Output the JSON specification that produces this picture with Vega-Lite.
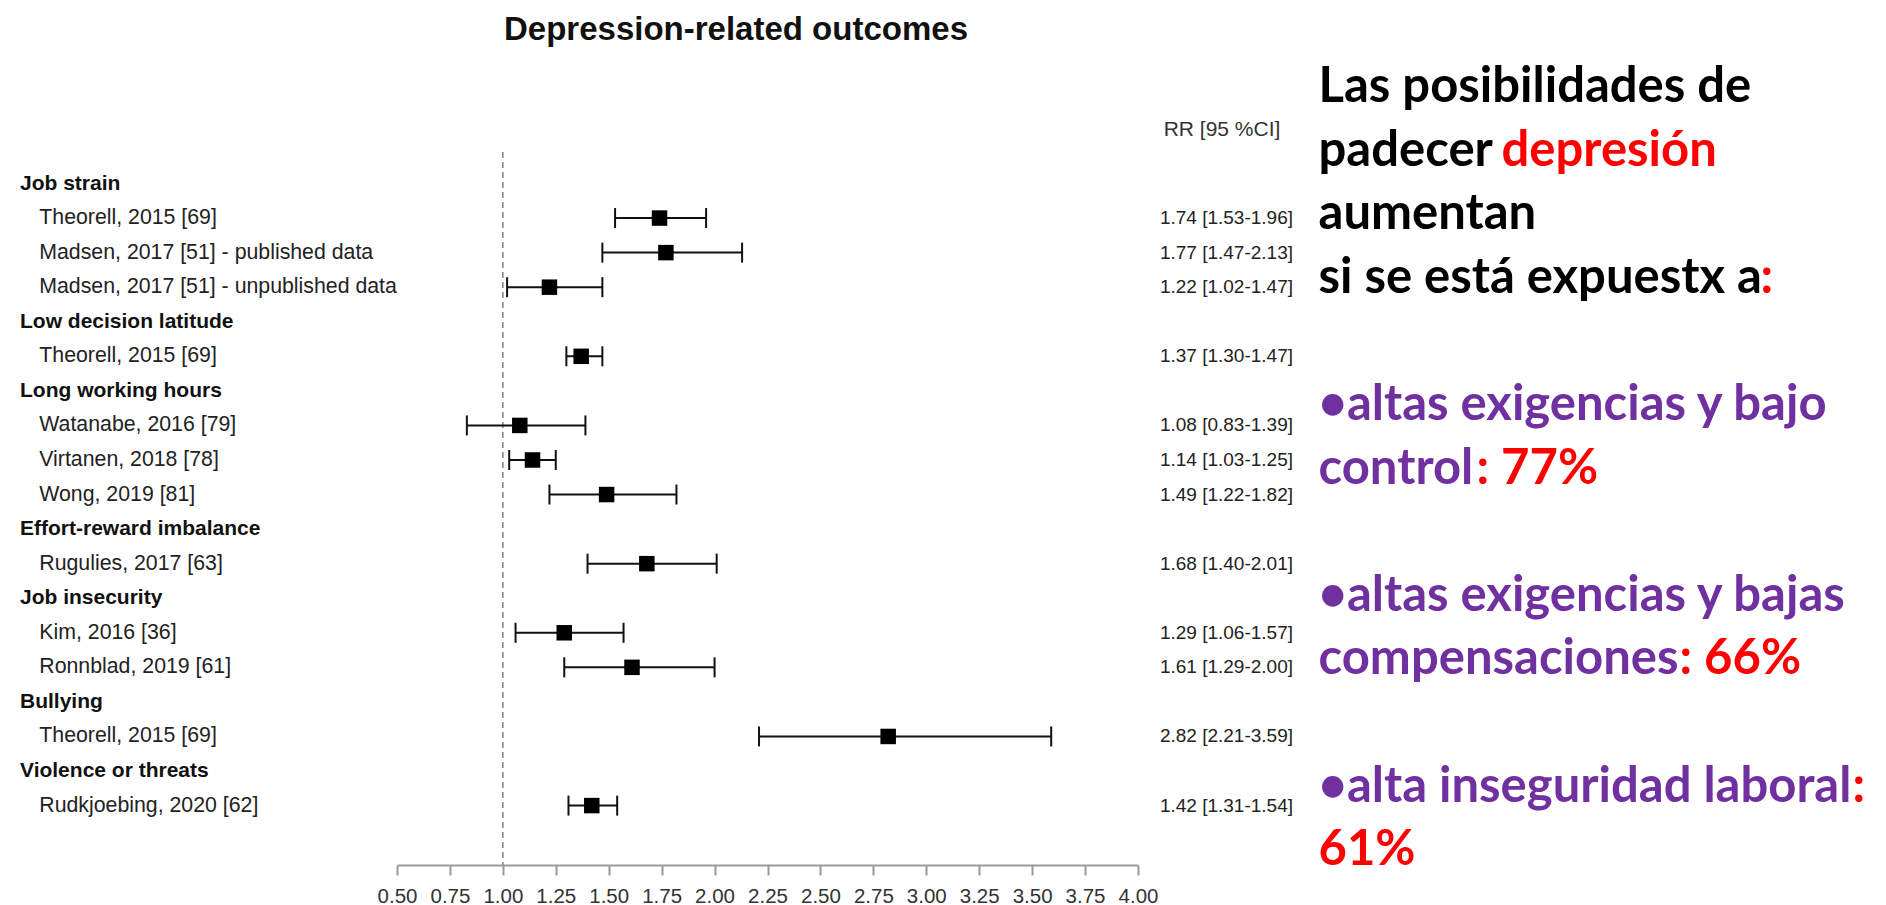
{
  "$schema": "https://vega.github.io/schema/vega-lite/v6.json",
  "width": 741,
  "height": 745,
  "autosize": {"type": "none"},
  "padding": {"left": 397, "right": 748, "top": 120, "bottom": 40},
  "background": "white",
  "datasets": {
    "forest": [
      {"row": 0, "label": "Job strain", "kind": "header"},
      {"row": 1, "label": "Theorell, 2015 [69]", "kind": "study", "rr": 1.74, "lo": 1.53, "hi": 1.96, "ci": "1.74 [1.53-1.96]"},
      {"row": 2, "label": "Madsen, 2017 [51] - published data", "kind": "study", "rr": 1.77, "lo": 1.47, "hi": 2.13, "ci": "1.77 [1.47-2.13]"},
      {"row": 3, "label": "Madsen, 2017 [51] - unpublished data", "kind": "study", "rr": 1.22, "lo": 1.02, "hi": 1.47, "ci": "1.22 [1.02-1.47]"},
      {"row": 4, "label": "Low decision latitude", "kind": "header"},
      {"row": 5, "label": "Theorell, 2015 [69]", "kind": "study", "rr": 1.37, "lo": 1.30, "hi": 1.47, "ci": "1.37 [1.30-1.47]"},
      {"row": 6, "label": "Long working hours", "kind": "header"},
      {"row": 7, "label": "Watanabe, 2016 [79]", "kind": "study", "rr": 1.08, "lo": 0.83, "hi": 1.39, "ci": "1.08 [0.83-1.39]"},
      {"row": 8, "label": "Virtanen, 2018 [78]", "kind": "study", "rr": 1.14, "lo": 1.03, "hi": 1.25, "ci": "1.14 [1.03-1.25]"},
      {"row": 9, "label": "Wong, 2019 [81]", "kind": "study", "rr": 1.49, "lo": 1.22, "hi": 1.82, "ci": "1.49 [1.22-1.82]"},
      {"row": 10, "label": "Effort-reward imbalance", "kind": "header"},
      {"row": 11, "label": "Rugulies, 2017 [63]", "kind": "study", "rr": 1.68, "lo": 1.40, "hi": 2.01, "ci": "1.68 [1.40-2.01]"},
      {"row": 12, "label": "Job insecurity", "kind": "header"},
      {"row": 13, "label": "Kim, 2016 [36]", "kind": "study", "rr": 1.29, "lo": 1.06, "hi": 1.57, "ci": "1.29 [1.06-1.57]"},
      {"row": 14, "label": "Ronnblad, 2019 [61]", "kind": "study", "rr": 1.61, "lo": 1.29, "hi": 2.00, "ci": "1.61 [1.29-2.00]"},
      {"row": 15, "label": "Bullying", "kind": "header"},
      {"row": 16, "label": "Theorell, 2015 [69]", "kind": "study", "rr": 2.82, "lo": 2.21, "hi": 3.59, "ci": "2.82 [2.21-3.59]"},
      {"row": 17, "label": "Violence or threats", "kind": "header"},
      {"row": 18, "label": "Rudkjoebing, 2020 [62]", "kind": "study", "rr": 1.42, "lo": 1.31, "hi": 1.54, "ci": "1.42 [1.31-1.54]"}
    ],
    "heads": [
      {"title": "Depression-related outcomes", "colhead": "RR [95 %CI]", "null": 1}
    ],
    "note": [
      {"line": 0, "seg": "lead", "tone": "plain", "text": "Las posibilidades de"},
      {"line": 1, "seg": "lead", "tone": "plain", "text": "padecer"},
      {"line": 1, "seg": "tail", "tone": "accent", "text": "depresión"},
      {"line": 2, "seg": "lead", "tone": "plain", "text": "aumentan"},
      {"line": 3, "seg": "lead", "tone": "plain", "text": "si se está expuestx a"},
      {"line": 3, "seg": "tail", "tone": "accent", "text": ":"},
      {"line": 5, "seg": "lead", "tone": "item", "text": "•altas exigencias y bajo"},
      {"line": 6, "seg": "lead", "tone": "item", "text": "control"},
      {"line": 6, "seg": "tail", "tone": "accent", "text": ": 77%"},
      {"line": 8, "seg": "lead", "tone": "item", "text": "•altas exigencias y bajas"},
      {"line": 9, "seg": "lead", "tone": "item", "text": "compensaciones"},
      {"line": 9, "seg": "tail", "tone": "accent", "text": ": 66%"},
      {"line": 11, "seg": "lead", "tone": "item", "text": "•alta inseguridad laboral"},
      {"line": 11, "seg": "tail", "tone": "accent", "text": ":"},
      {"line": 12, "seg": "lead", "tone": "accent", "text": "61%"}
    ]
  },
  "layer": [
    {
      "layer": [
        {
          "data": {"name": "heads"},
          "mark": {"type": "rule", "strokeDash": [6, 4], "color": "#8a8a8a", "strokeWidth": 1.6},
          "encoding": {
            "x": {"field": "null", "type": "quantitative", "title": null, "scale": {"domain": [0.5, 4], "nice": false, "zero": false}},
            "y": {"datum": -0.911, "type": "quantitative", "scale": {"domain": [-1.8374, 19.7193], "reverse": true, "nice": false, "zero": false}, "axis": null},
            "y2": {"datum": 19.7193}
          }
        },
        {
          "data": {"name": "forest"},
          "transform": [{"filter": "datum.kind == 'study'"}],
          "mark": {"type": "rule", "color": "#111111", "strokeWidth": 2},
          "encoding": {
            "x": {
              "field": "lo", "type": "quantitative", "title": null,
              "scale": {"domain": [0.5, 4], "nice": false, "zero": false},
              "axis": {
                "values": [0.5, 0.75, 1, 1.25, 1.5, 1.75, 2, 2.25, 2.5, 2.75, 3, 3.25, 3.5, 3.75, 4],
                "format": ".2f",
                "title": null,
                "grid": false,
                "domainColor": "#9a9a9a",
                "domainWidth": 2,
                "tickColor": "#9a9a9a",
                "tickWidth": 2,
                "tickSize": 10,
                "labelFont": "Liberation Sans",
                "labelFontSize": 20.5,
                "labelColor": "#333333",
                "labelPadding": 11,
                "labelOverlap": false,
                "labelFlush": false
              }
            },
            "x2": {"field": "hi"},
            "y": {"field": "row", "type": "quantitative", "scale": {"domain": [-1.8374, 19.7193], "reverse": true, "nice": false, "zero": false}, "axis": null}
          }
        },
        {
          "data": {"name": "forest"},
          "transform": [{"filter": "datum.kind == 'study'"}],
          "mark": {"type": "tick", "orient": "vertical", "size": 20, "thickness": 2, "color": "#111111", "opacity": 1},
          "encoding": {
            "x": {"field": "lo", "type": "quantitative", "title": null, "scale": {"domain": [0.5, 4], "nice": false, "zero": false}},
            "y": {"field": "row", "type": "quantitative", "scale": {"domain": [-1.8374, 19.7193], "reverse": true, "nice": false, "zero": false}, "axis": null}
          }
        },
        {
          "data": {"name": "forest"},
          "transform": [{"filter": "datum.kind == 'study'"}],
          "mark": {"type": "tick", "orient": "vertical", "size": 20, "thickness": 2, "color": "#111111", "opacity": 1},
          "encoding": {
            "x": {"field": "hi", "type": "quantitative", "title": null, "scale": {"domain": [0.5, 4], "nice": false, "zero": false}},
            "y": {"field": "row", "type": "quantitative", "scale": {"domain": [-1.8374, 19.7193], "reverse": true, "nice": false, "zero": false}, "axis": null}
          }
        },
        {
          "data": {"name": "forest"},
          "transform": [{"filter": "datum.kind == 'study'"}],
          "mark": {"type": "point", "shape": "square", "filled": true, "size": 240, "color": "#000000", "opacity": 1, "strokeWidth": 0},
          "encoding": {
            "x": {"field": "rr", "type": "quantitative", "title": null, "scale": {"domain": [0.5, 4], "nice": false, "zero": false}},
            "y": {"field": "row", "type": "quantitative", "scale": {"domain": [-1.8374, 19.7193], "reverse": true, "nice": false, "zero": false}, "axis": null}
          }
        },
        {
          "data": {"name": "forest"},
          "transform": [{"filter": "datum.kind == 'header'"}],
          "mark": {"type": "text", "align": "left", "baseline": "middle", "font": "Liberation Sans", "fontWeight": "bold", "fontSize": 21, "color": "#111111"},
          "encoding": {
            "x": {"datum": -1.2807, "type": "quantitative", "scale": {"domain": [0.5, 4], "nice": false, "zero": false}},
            "y": {"field": "row", "type": "quantitative", "scale": {"domain": [-1.8374, 19.7193], "reverse": true, "nice": false, "zero": false}, "axis": null},
            "text": {"field": "label"}
          }
        },
        {
          "data": {"name": "forest"},
          "transform": [{"filter": "datum.kind == 'study'"}],
          "mark": {"type": "text", "align": "left", "baseline": "middle", "font": "Liberation Sans", "fontSize": 21.3, "color": "#222222"},
          "encoding": {
            "x": {"datum": -1.1896, "type": "quantitative", "scale": {"domain": [0.5, 4], "nice": false, "zero": false}},
            "y": {"field": "row", "type": "quantitative", "scale": {"domain": [-1.8374, 19.7193], "reverse": true, "nice": false, "zero": false}, "axis": null},
            "text": {"field": "label"}
          }
        },
        {
          "data": {"name": "forest"},
          "transform": [{"filter": "datum.kind == 'study'"}],
          "mark": {"type": "text", "align": "right", "baseline": "middle", "font": "Liberation Sans", "fontSize": 19, "color": "#222222"},
          "encoding": {
            "x": {"datum": 4.7322, "type": "quantitative", "scale": {"domain": [0.5, 4], "nice": false, "zero": false}},
            "y": {"field": "row", "type": "quantitative", "scale": {"domain": [-1.8374, 19.7193], "reverse": true, "nice": false, "zero": false}, "axis": null},
            "text": {"field": "ci"}
          }
        },
        {
          "data": {"name": "heads"},
          "mark": {"type": "text", "align": "center", "baseline": "middle", "font": "Liberation Sans", "fontSize": 21, "color": "#333333"},
          "encoding": {
            "x": {"datum": 4.3968, "type": "quantitative", "scale": {"domain": [0.5, 4], "nice": false, "zero": false}},
            "y": {"datum": -1.548, "type": "quantitative", "scale": {"domain": [-1.8374, 19.7193], "reverse": true, "nice": false, "zero": false}, "axis": null},
            "text": {"field": "colhead"}
          }
        },
        {
          "data": {"name": "heads"},
          "mark": {"type": "text", "align": "center", "baseline": "middle", "font": "Liberation Sans", "fontWeight": "bold", "fontSize": 33, "color": "#111111"},
          "encoding": {
            "x": {"datum": 2.1012, "type": "quantitative", "scale": {"domain": [0.5, 4], "nice": false, "zero": false}},
            "y": {"datum": -4.45, "type": "quantitative", "scale": {"domain": [-1.8374, 19.7193], "reverse": true, "nice": false, "zero": false}, "axis": null},
            "text": {"field": "title"}
          }
        }
      ]
    },
    {
      "data": {"name": "note"},
      "encoding": {
        "x": {"datum": 4.8527, "type": "quantitative", "scale": {"domain": [0.5, 4], "nice": false, "zero": false}},
        "y": {"field": "line", "type": "quantitative", "scale": {"domain": [0.283, 11.997], "reverse": true, "nice": false, "zero": false}, "axis": null},
        "color": {"field": "tone", "type": "nominal", "scale": {"domain": ["plain", "accent", "item"], "range": ["#000000", "#FF0000", "#7030A0"]}, "legend": null},
        "text": {"field": "text"}
      },
      "layer": [
        {
          "transform": [{"filter": "datum.seg == 'lead'"}],
          "mark": {"type": "text", "align": "left", "baseline": "alphabetic", "font": "Lato", "fontWeight": "bold", "fontSize": 49}
        },
        {
          "transform": [{"filter": "datum.seg == 'tail' && datum.line == 1"}],
          "mark": {"type": "text", "align": "left", "baseline": "alphabetic", "font": "Lato", "fontWeight": "bold", "fontSize": 49, "dx": 183}
        },
        {
          "transform": [{"filter": "datum.seg == 'tail' && datum.line == 3"}],
          "mark": {"type": "text", "align": "left", "baseline": "alphabetic", "font": "Lato", "fontWeight": "bold", "fontSize": 49, "dx": 442}
        },
        {
          "transform": [{"filter": "datum.seg == 'tail' && datum.line == 6"}],
          "mark": {"type": "text", "align": "left", "baseline": "alphabetic", "font": "Lato", "fontWeight": "bold", "fontSize": 49, "dx": 158}
        },
        {
          "transform": [{"filter": "datum.seg == 'tail' && datum.line == 9"}],
          "mark": {"type": "text", "align": "left", "baseline": "alphabetic", "font": "Lato", "fontWeight": "bold", "fontSize": 49, "dx": 361}
        },
        {
          "transform": [{"filter": "datum.seg == 'tail' && datum.line == 11"}],
          "mark": {"type": "text", "align": "left", "baseline": "alphabetic", "font": "Lato", "fontWeight": "bold", "fontSize": 49, "dx": 534}
        }
      ]
    }
  ],
  "resolve": {"scale": {"y": "independent"}},
  "config": {"view": {"stroke": null}}
}
